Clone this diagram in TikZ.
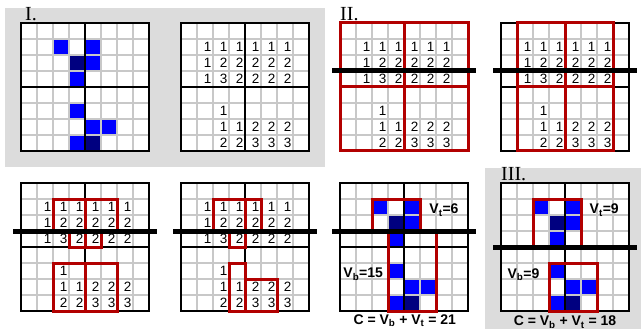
\documentclass[tikz,border=0pt]{standalone}
\usepackage{fontspec}
\setmainfont{Liberation Serif}
\setsansfont{Liberation Sans}
\definecolor{panelGray}{RGB}{220,220,220}
\definecolor{gridGray}{RGB}{200,200,200}
\definecolor{blockBlue}{RGB}{0,0,255}
\definecolor{blockNavy}{RGB}{0,0,128}
\definecolor{boxRed}{RGB}{178,0,0}

\begin{document}
\begin{tikzpicture}[
    x=1pt, y=-1pt,
    panelBg/.style={fill=panelGray}, % 灰色底板
    cellLine/.style={line width=1.5pt, gridGray}, % 细格线
    midLine/.style={line width=1.5pt, black}, % 中线
    gridFrame/.style={line width=2pt, black}, % 外框
    blueCell/.style={fill=blockBlue},
    navyCell/.style={fill=blockNavy},
    redBox/.style={line width=3pt, boxRed},
    cutLine/.style={line width=5pt, black}, % 粗横切线
    numCell/.style={anchor=east, inner sep=1.5pt, font=\sffamily\fontsize{13.5}{13.5}\selectfont},
    valLabel/.style={inner sep=0pt, font=\sffamily\bfseries\fontsize{14}{14}\selectfont},
    romanLabel/.style={anchor=base west, inner sep=0pt, font=\fontsize{20}{20}\selectfont},
]
    \useasboundingbox (0,0) rectangle (641,329);

    % 1. 灰色底板与编号
    \fill[panelBg] (5,8) rectangle (325,167);
    \fill[panelBg] (485,168) rectangle (641,329);
    \node[romanLabel] (romI) at (25,21) {I.};
    \node[romanLabel] (romII) at (340,21) {II.};
    \node[romanLabel] (romIII) at (501,181) {III.};

    % 2. 白色格子底
    \foreach \gx/\gy in {21/23,181/23,340/23,501/23,21/183,181/183,340/183,501/183}{
        \fill[white] (\gx,\gy) rectangle +(128,128);
    }

    % 3. 蓝色方块
    \foreach \gx/\gy in {21/23,340/183,501/183}{
        \begin{scope}[shift={(\gx,\gy)}, x=16pt, y=-16pt]
            \foreach \c/\r in {2/1,4/1,4/2,3/3,3/5,4/6,5/6,3/7}
                \fill[blueCell] (\c,\r) rectangle +(1,1);
            \foreach \c/\r in {3/2,4/7}
                \fill[navyCell] (\c,\r) rectangle +(1,1);
        \end{scope}
    }

    % 4. 网格线、中线、外框
    \foreach \gx/\gy in {21/23,181/23,340/23,501/23,21/183,181/183,340/183,501/183}{
        \begin{scope}[shift={(\gx,\gy)}, x=16pt, y=-16pt]
            \foreach \k in {1,...,7}
                \draw[cellLine] (\k,0) -- (\k,8) (0,\k) -- (8,\k);
            \draw[midLine] (4,0) -- (4,8) (0,4) -- (8,4);
            \draw[gridFrame] (0,0) rectangle (8,8);
        \end{scope}
    }

    % 5. 格内计数
    \foreach \gx/\gy/\pre in {181/23/na,340/23/nb,501/23/nc,21/183/nd,181/183/ne}{
        \begin{scope}[shift={(\gx,\gy)}, x=16pt, y=-16pt]
            \foreach \r/\s/\vals in {1/1/{1,1,1,1,1,1}, 2/1/{1,2,2,2,2,2}, 3/1/{1,3,2,2,2,2},
                                     5/2/{1}, 6/2/{1,1,2,2,2}, 7/2/{2,2,3,3,3}}{
                \foreach \v [count=\k] in \vals
                    \node[numCell] (\pre-\r-\k) at ({\s+\k},{\r+0.5}) {\v};
            }
        \end{scope}
    }

    % 6. 红框与粗切线
    \begin{scope}[shift={(340,23)}, x=16pt, y=-16pt]
        \draw[redBox] (0,0) rectangle (4,4) (4,0) rectangle (8,4) (0,4) rectangle (4,8) (4,4) rectangle (8,8);
        \draw[cutLine] (-0.5,3) -- (8.5,3);
    \end{scope}
    \begin{scope}[shift={(501,23)}, x=16pt, y=-16pt]
        \draw[redBox] (1,0) rectangle (4,4) (4,0) rectangle (7,4) (1,4) rectangle (4,8) (4,4) rectangle (7,8);
        \draw[cutLine] (-0.5,3) -- (8.5,3);
    \end{scope}
    \begin{scope}[shift={(21,183)}, x=16pt, y=-16pt]
        \draw[redBox] (2,1) rectangle (4,3) (3,3) rectangle (4,4) (4,1) rectangle (6,3) (4,3) rectangle (5,4);
        \draw[redBox] (2,5) rectangle (4,8) (4,5) rectangle (6,8);
        \draw[cutLine] (-0.5,3) -- (8.5,3);
    \end{scope}
    \begin{scope}[shift={(181,183)}, x=16pt, y=-16pt]
        \draw[redBox] (2,1) rectangle (4,3) (3,3) rectangle (4,4) (4,1) rectangle (5,3);
        \draw[redBox] (3,5) rectangle (4,8) (4,6) rectangle (6,8);
        \draw[cutLine] (-0.5,3) -- (8.5,3);
    \end{scope}
    \begin{scope}[shift={(340,183)}, x=16pt, y=-16pt]
        \draw[redBox] (2,1) rectangle (5,3) (3,3) rectangle (6,8);
        \draw[cutLine] (-0.5,3) -- (8.5,3);
        \node[valLabel] (vtA) at (6.5,1.7) {V\textsubscript{t}=6};
        \node[valLabel] (vbA) at (1.45,5.7) {V\textsubscript{b}=15};
        \node[valLabel] (sumA) at (4.05,8.6) {C = V\textsubscript{b} + V\textsubscript{t} = 21};
    \end{scope}
    \begin{scope}[shift={(501,183)}, x=16pt, y=-16pt]
        \draw[redBox] (2,1) rectangle (5,4) (3,5) rectangle (6,8);
        \draw[cutLine] (-0.5,4) -- (8.5,4);
        \node[valLabel] (vtB) at (6.45,1.7) {V\textsubscript{t}=9};
        \node[valLabel] (vbB) at (1.4,5.75) {V\textsubscript{b}=9};
        \node[valLabel] (sumB) at (4,8.7) {C = V\textsubscript{b} + V\textsubscript{t} = 18};
    \end{scope}
\end{tikzpicture}
\end{document}
